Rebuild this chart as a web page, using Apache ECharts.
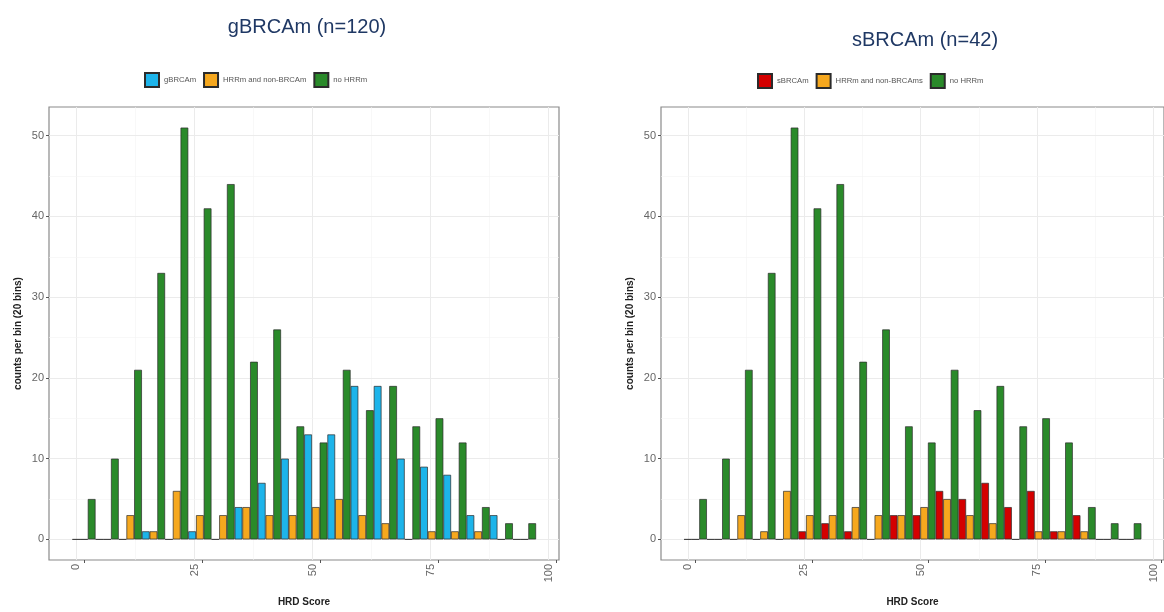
<!DOCTYPE html>
<html>
<head>
<meta charset="utf-8">
<script src="https://cdn.jsdelivr.net/npm/echarts@6/dist/echarts.min.js"></script>
<style>
html,body{margin:0;padding:0;background:#fff;}
#chart{width:1164px;height:612px;}
</style>
</head>
<body>
<div id="chart"></div>
<script>
// HRD score bin centres (20 bins)
const binCenters = [0, 4.91, 9.82, 14.73, 19.64, 24.55, 29.46, 34.37, 39.28, 44.19,
                    49.1, 54.01, 58.92, 63.83, 68.74, 73.65, 78.56, 83.47, 88.38, 93.29];

// Left panel: gBRCAm (n=120)
const gBRCAm       = [0, 0, 0, 1, 0, 1, 0, 4, 7, 10, 13, 13, 19, 19, 10, 9, 8, 3, 3, 0];
const hrrmLeft     = [0, 0, 3, 1, 6, 3, 3, 4, 3, 3, 4, 5, 3, 2, 0, 1, 1, 1, 0, 0];
const noHrrmLeft   = [5, 10, 21, 33, 51, 41, 44, 22, 26, 14, 12, 21, 16, 19, 14, 15, 12, 4, 2, 2];

// Right panel: sBRCAm (n=42)
const sBRCAm       = [0, 0, 0, 0, 0, 1, 2, 1, 0, 3, 3, 6, 5, 7, 4, 6, 1, 3, 0, 0];
const hrrmRight    = [0, 0, 3, 1, 6, 3, 3, 4, 3, 3, 4, 5, 3, 2, 0, 1, 1, 1, 0, 0];
const noHrrmRight  = [5, 10, 21, 33, 51, 41, 44, 22, 26, 14, 12, 21, 16, 19, 14, 15, 12, 4, 2, 2];

// Tick labels
const xTicks = [0, 25, 50, 75, 100];
const xMinor = [12.5, 37.5, 62.5, 87.5];
const yTicks = [0, 10, 20, 30, 40, 50];
const yMinor = [5, 15, 25, 35, 45];

const titles = ['gBRCAm (n=120)', 'sBRCAm (n=42)'];
const leftNames  = ['gBRCAm', 'HRRm and non-BRCAm', 'no HRRm'];
const rightNames = ['sBRCAm', 'HRRm and non-BRCAms', 'no HRRm'];

const colBlue = '#1db4ea', colOrange = '#f6a81e', colGreen = '#2a8a2a', colRed = '#d40000';
const FONT = '"Liberation Sans", Arial, sans-serif';

const chart = echarts.init(document.getElementById('chart'), null, {renderer: 'canvas'});

function pairs(vals) { return binCenters.map((c, i) => [c, vals[i]]); }

function gridLines() {
  const d = [];
  xTicks.forEach(v => d.push({xAxis: v, lineStyle: {color: '#ebebeb', width: 1, type: 'solid'}}));
  xMinor.forEach(v => d.push({xAxis: v, lineStyle: {color: '#f4f4f4', width: 0.6, type: 'solid'}}));
  yTicks.forEach(v => d.push({yAxis: v, lineStyle: {color: '#ebebeb', width: 1, type: 'solid'}}));
  yMinor.forEach(v => d.push({yAxis: v, lineStyle: {color: '#f4f4f4', width: 0.6, type: 'solid'}}));
  return {silent: true, symbol: 'none', z: 1, label: {show: false}, data: d, animation: false};
}

function barSeries(name, vals, color, idx, withGrid) {
  const s = {
    type: 'bar', name: name, xAxisIndex: idx, yAxisIndex: idx,
    data: pairs(vals), barWidth: '33.3%', barGap: '0%',
    itemStyle: {color: color, borderColor: '#2b2b2b', borderWidth: 0.7},
    z: 2
  };
  if (withGrid) s.markLine = gridLines();
  return s;
}

function xAxisCfg(idx) {
  return {
    type: 'value', gridIndex: idx, min: -7.4, max: 100.6,
    name: 'HRD Score', nameLocation: 'middle', nameGap: 37,
    nameTextStyle: {fontFamily: FONT, fontSize: 10, fontWeight: 'bold', color: '#222'},
    axisLine: {show: false, onZero: false},
    splitLine: {show: false},
    axisTick: {show: true, length: 3, customValues: xTicks, lineStyle: {color: '#555'}},
    axisLabel: {customValues: xTicks, rotate: 90, verticalAlign: 'bottom', margin: 4,
                fontFamily: FONT, fontSize: 11, color: '#666', padding: [0, 0, 2, 0]}
  };
}
function yAxisCfg(idx) {
  return {
    type: 'value', gridIndex: idx, min: -2.55, max: 53.55,
    name: 'counts per bin (20 bins)', nameLocation: 'middle', nameGap: 26, nameRotate: 90,
    nameTextStyle: {fontFamily: FONT, fontSize: 10, fontWeight: 'bold', color: '#222'},
    axisLine: {show: false, onZero: false},
    splitLine: {show: false},
    axisTick: {show: true, length: 3, customValues: yTicks, lineStyle: {color: '#555'}},
    axisLabel: {customValues: yTicks, margin: 5, fontFamily: FONT, fontSize: 11, color: '#666'}
  };
}

const legendText = {fontFamily: FONT, fontSize: 7.7, color: '#555'};

chart.setOption({
  animation: false,
  backgroundColor: '#fff',
  title: [
    {text: titles[0], left: 302, top: 12, textAlign: 'center',
     textStyle: {fontFamily: FONT, fontSize: 20, fontWeight: 'normal', color: '#1f3864'}},
    {text: titles[1], left: 920, top: 25, textAlign: 'center',
     textStyle: {fontFamily: FONT, fontSize: 20, fontWeight: 'normal', color: '#1f3864'}}
  ],
  legend: [
    {data: leftNames, left: 139, top: 67, itemWidth: 14, itemHeight: 14, itemGap: 7,
     icon: 'rect', textStyle: legendText, selectedMode: false},
    {data: rightNames, left: 752, top: 68, itemWidth: 14, itemHeight: 14, itemGap: 7,
     icon: 'rect', textStyle: legendText, selectedMode: false}
  ],
  grid: [
    {left: 49, top: 107, width: 510, height: 455, show: true, borderColor: '#8a8a8a', borderWidth: 1.2, backgroundColor: '#fff'},
    {left: 661, top: 107, width: 510, height: 455, show: true, borderColor: '#8a8a8a', borderWidth: 1.2, backgroundColor: '#fff'}
  ],
  xAxis: [xAxisCfg(0), xAxisCfg(1)],
  yAxis: [yAxisCfg(0), yAxisCfg(1)],
  series: [
    barSeries(leftNames[0], gBRCAm, colBlue, 0, true),
    barSeries(leftNames[1], hrrmLeft, colOrange, 0, false),
    barSeries(leftNames[2], noHrrmLeft, colGreen, 0, false),
    barSeries(rightNames[0], sBRCAm, colRed, 1, true),
    barSeries(rightNames[1], hrrmRight, colOrange, 1, false),
    barSeries(rightNames[2], noHrrmRight, colGreen, 1, false)
  ]
});
</script>
</body>
</html>
